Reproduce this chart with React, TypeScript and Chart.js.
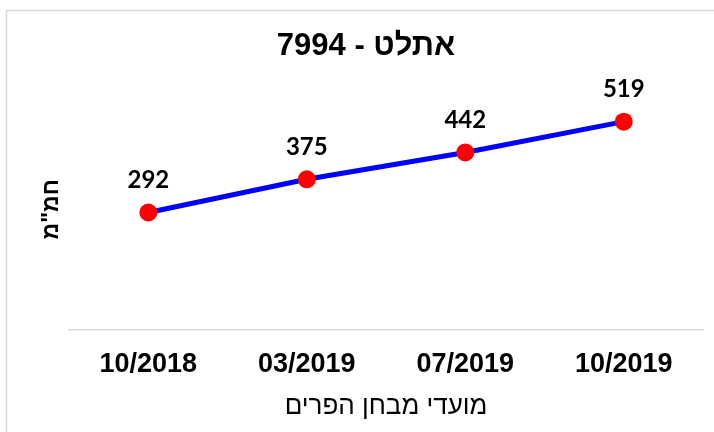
import React, { useEffect, useRef } from "react";
import { Chart, registerables } from "chart.js";

Chart.register(...registerables);

const chartTitle = "אתלט - 7994";
const yAxisTitle = 'חמ"מ';
const xAxisTitle = "מועדי מבחן הפרים";
const categories = ["10/2018", "03/2019", "07/2019", "10/2019"];
const values = [292, 375, 442, 519];
const yMin = 0;
const yMax = 600;

const framePlugin = {
  id: "frame",
  beforeDraw(chart: any) {
    const ctx = chart.ctx;
    ctx.save();
    ctx.fillStyle = "#ffffff";
    ctx.fillRect(0, 0, chart.width, chart.height);
    ctx.strokeStyle = "#d9d9d9";
    ctx.lineWidth = 1.5;
    ctx.strokeRect(6.5, 10.5, chart.width, chart.height);
    ctx.restore();
  },
};

const labelPlugin = {
  id: "valueLabels",
  afterDatasetsDraw(chart: any) {
    const ctx = chart.ctx;
    const meta = chart.getDatasetMeta(0);
    const data = chart.data.datasets[0].data;
    ctx.save();
    ctx.font = "bold 24px Lato, 'Liberation Sans', sans-serif";
    ctx.fillStyle = "#000000";
    ctx.textAlign = "center";
    ctx.textBaseline = "middle";
    meta.data.forEach((pt: any, i: number) => {
      ctx.fillText(String(data[i]), pt.x, pt.y - 32);
    });
    ctx.restore();
  },
};

export default function App() {
  const ref = useRef<HTMLCanvasElement>(null);
  useEffect(() => {
    if (!ref.current) return;
    const chart = new Chart(ref.current, {
      type: "line",
      data: {
        labels: categories,
        datasets: [
          {
            data: values,
            borderColor: "#0000ff",
            borderWidth: 5,
            pointRadius: 9,
            pointHoverRadius: 9,
            pointBackgroundColor: "#ff0000",
            pointBorderWidth: 0,
            tension: 0,
          },
        ],
      },
      options: {
        responsive: false,
        animation: false,
        layout: { padding: { left: 29, right: 27, top: 10, bottom: 38 } },
        plugins: {
          legend: { display: false },
          tooltip: { enabled: false },
          title: {
            display: true,
            text: chartTitle,
            color: "#000000",
            font: { family: "'Liberation Sans', Arial, sans-serif", size: 31, weight: "bold" },
            padding: { top: 18, bottom: 24 },
          },
        },
        scales: {
          x: {
            offset: true,
            grid: { display: false, drawTicks: false },
            border: { display: true, color: "#d9d9d9", width: 1.5 },
            ticks: {
              color: "#000000",
              padding: 19,
              font: { family: "'Liberation Sans', Arial, sans-serif", size: 27, weight: "bold" },
            },
            title: {
              display: true,
              text: xAxisTitle,
              color: "#000000",
              font: { family: "'Liberation Sans', Arial, sans-serif", size: 26, weight: "normal" },
              padding: { top: -9, bottom: 0 },
            },
          },
          y: {
            min: yMin,
            max: yMax,
            grid: { display: false, drawTicks: false },
            border: { display: false },
            ticks: { display: false },
            title: {
              display: true,
              text: yAxisTitle,
              color: "#000000",
              font: { family: "'Liberation Sans', Arial, sans-serif", size: 23, weight: "bold" },
              padding: { top: 9, bottom: 3.5 },
            },
          },
        },
      },
      plugins: [framePlugin, labelPlugin],
    });
    return () => chart.destroy();
  }, []);
  return (
    <div style={{ position: "absolute", left: 0, top: 0, width: 730, height: 460 }}>
      <canvas ref={ref} width={730} height={460} />
    </div>
  );
}
